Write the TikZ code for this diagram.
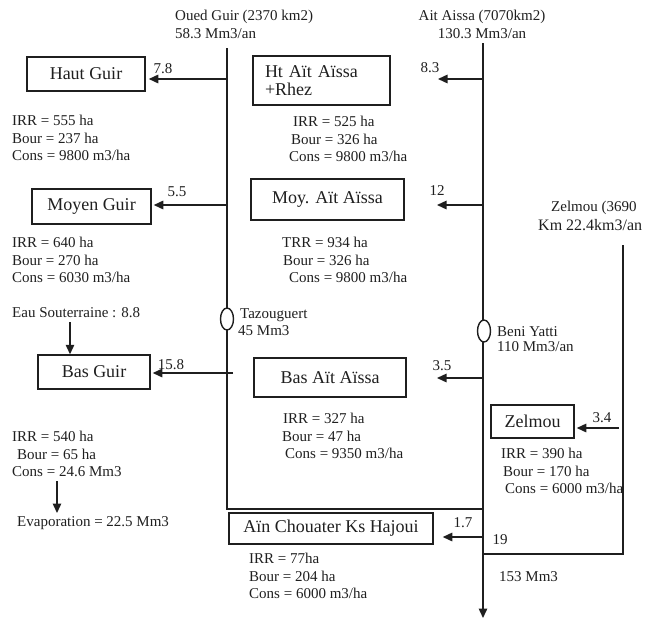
\documentclass[tikz,border=0pt]{standalone}
\usepackage{fontspec}
\setmainfont{Liberation Serif}
\usetikzlibrary{arrows.meta,shapes.geometric}
\definecolor{ink}{gray}{0.12}
\begin{document}
\begin{tikzpicture}[x=1pt,y=-1pt,
  every node/.style={text=ink, inner sep=0pt},
  box/.style={draw=ink, line width=1.5pt, font=\fontsize{18}{18}\selectfont, align=center},
  stat/.style={anchor=west, align=left, font=\fontsize{15}{17.5}\selectfont},
  lab/.style={font=\fontsize{15}{17}\selectfont},
  flow/.style={draw=ink, line width=1.4pt},
  arr/.style={flow, -{Triangle[length=9.5pt,width=8.5pt]}},
  tank/.style={draw=ink, fill=white, ellipse, line width=1.4pt, minimum width=13pt, minimum height=22pt}]
\useasboundingbox (0,0) rectangle (645,621);

% headers
\node[lab, align=left, anchor=west, font=\fontsize{15}{18}\selectfont] (guirhead) at (175,24) {Oued Guir (2370 km2)\\58.3 Mm3/an};
\node[lab, align=center, font=\fontsize{15}{18}\selectfont] (aissahead) at (482,24) {Ait Aissa (7070km2)\\130.3 Mm3/an};
\node[lab, anchor=west] (zelhead1) at (551,208) {Zelmou (3690};
\node[lab, anchor=west, font=\fontsize{16}{17}\selectfont] (zelhead2) at (538,225) {Km 22.4km3/an};

% rivers
\coordinate (gtop) at (227,48);
\coordinate (gbend) at (227,509);
\coordinate (atop) at (483,43);
\coordinate (aend) at (483,618);
\coordinate (ajoin) at (483,509);
\coordinate (ztop) at (623,245);
\coordinate (zbend) at (623,554);
\coordinate (zjoin) at (483,554);
\draw[flow] (gtop) -- (gbend) -- (ajoin);
\draw[arr] (atop) -- (aend);
\draw[flow] (ztop) -- (zbend) -- (zjoin);

% dams
\node[tank] (taz) at (227,319) {};
\node[tank] (beni) at (484,331) {};
\node[lab, anchor=west, align=left] (tazlab) at (238,322) {\hspace*{2pt}Tazouguert\\45 Mm3};
\node[lab, anchor=west, align=left, font=\fontsize{15}{15}\selectfont] (benilab) at (497,339) {Beni Yatti\\110 Mm3/an};

% boxes
\node[box, minimum width=118pt, minimum height=34pt] (hautguir) at (86,74) {Haut Guir};
\node[box, minimum height=49pt, text width=113pt, align=left, inner xsep=12pt] (htaissa) at (321.5,80.5) {Ht Aït Aïssa\\+Rhez};
\node[box, minimum width=119pt, minimum height=35pt] (moyenguir) at (91.5,206.5) {Moyen Guir};
\node[box, minimum width=153pt, minimum height=41pt] (moyaissa) at (327.5,199.5) {Moy. Aït Aïssa};
\node[box, minimum width=112pt, minimum height=34pt] (basguir) at (94,372) {Bas Guir};
\node[box, minimum width=152pt, minimum height=39pt] (basaissa) at (330,377.5) {Bas Aït Aïssa};
\node[box, minimum width=83pt, minimum height=33pt] (zelmou) at (532.5,421.5) {Zelmou};
\node[box, minimum width=204pt, minimum height=31pt] (ain) at (331,528.5) {Aïn Chouater Ks Hajoui};

% withdrawals from Oued Guir
\coordinate (g1) at (227,79);
\coordinate (g2) at (227,205);
\coordinate (g3) at (233,373);
\draw[arr, shorten >=3pt] (g1) -- (g1 -| hautguir.east);
\draw[arr, shorten >=2pt] (g2) -- (g2 -| moyenguir.east);
\draw[arr, shorten >=2pt] (g3) -- (g3 -| basguir.east);

% withdrawals from Ait Aissa
\coordinate (a1) at (483,79);  \coordinate (a1e) at (438,79);
\coordinate (a2) at (483,205); \coordinate (a2e) at (437,205);
\coordinate (a3) at (483,378); \coordinate (a3e) at (437,378);
\coordinate (a4) at (483,537);
\draw[arr] (a1) -- (a1e);
\draw[arr] (a2) -- (a2e);
\draw[arr] (a3) -- (a3e);
\draw[arr, shorten >=9pt] (a4) -- (a4 -| ain.east);

% Zelmou withdrawal
\coordinate (z1) at (619,428);
\draw[arr, shorten >=2pt] (z1) -- (z1 -| zelmou.east);

% groundwater and evaporation
\node[lab, anchor=west] (eau) at (12,313) {Eau Souterraine : 8.8};
\coordinate (e1) at (70,322);
\draw[arr] (e1) -- (e1 |- basguir.north);
\coordinate (v1) at (57,481);
\coordinate (v2) at (57,513);
\draw[arr] (v1) -- (v2);
\node[lab, anchor=west] (evap) at (17,523) {Evaporation = 22.5 Mm3};

% flow labels
\node[lab] (l78) at (163,69) {7.8};
\node[lab] (l83) at (430,68) {8.3};
\node[lab] (l55) at (177,192) {5.5};
\node[lab] (l12) at (437,191) {12};
\node[lab] (l158) at (171,365) {15.8};
\node[lab] (l35) at (442,366) {3.5};
\node[lab] (l34) at (602,418) {3.4};
\node[lab] (l17) at (463,523) {1.7};
\node[lab] (l19) at (500,540) {19};
\node[lab, anchor=west] (l153) at (499,577) {153 Mm3};

% statistics
\node[stat] (hgstats) at (12,138) {IRR = 555 ha\\Bour = 237 ha\\Cons = 9800 m3/ha};
\node[stat] (hastats) at (289,139) {\hspace*{4pt}IRR = 525 ha\\\hspace*{2pt}Bour = 326 ha\\Cons = 9800 m3/ha};
\node[stat] (mgstats) at (12,260) {IRR = 640 ha\\Bour = 270 ha\\Cons = 6030 m3/ha};
\node[stat] (mastats) at (282,260) {TRR = 934 ha\\\hspace*{1pt}Bour = 326 ha\\\hspace*{7pt}Cons = 9800 m3/ha};
\node[stat] (bgstats) at (12,454) {IRR = 540 ha\\\hspace*{5pt}Bour = 65 ha\\Cons = 24.6 Mm3};
\node[stat] (bastats) at (282,436) {\hspace*{1pt}IRR = 327 ha\\Bour = 47 ha\\\hspace*{3pt}Cons = 9350 m3/ha};
\node[stat] (zstats) at (501,471) {IRR = 390 ha\\\hspace*{2pt}Bour = 170 ha\\\hspace*{4pt}Cons = 6000 m3/ha};
\node[stat] (aistats) at (249,576) {IRR = 77ha\\Bour = 204 ha\\Cons = 6000 m3/ha};
\end{tikzpicture}
\end{document}
